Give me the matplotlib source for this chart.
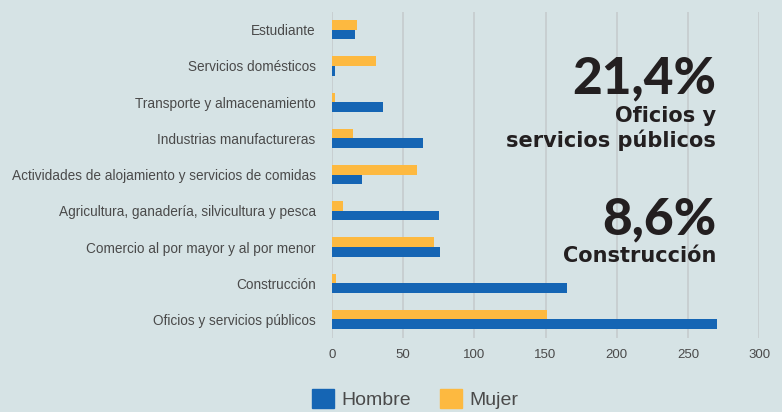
import matplotlib.pyplot as plt
import numpy as np
from matplotlib.patches import Patch

# categories from top to bottom
categories = [
    "Estudiante",
    "Servicios domésticos",
    "Transporte y almacenamiento",
    "Industrias manufactureras",
    "Actividades de alojamiento y servicios de comidas",
    "Agricultura, ganadería, silvicultura y pesca",
    "Comercio al por mayor y al por menor",
    "Construcción",
    "Oficios y servicios públicos",
]
hombre = [16, 2, 36, 64, 21, 75, 76, 165, 270]
mujer = [18, 31, 2, 15, 60, 8, 72, 3, 151]
x_ticks = [0, 50, 100, 150, 200, 250, 300]

bg = "#d6e3e5"
blue = "#1565b4"
orange = "#fdb940"
text_gray = "#4a4a4a"

plt.rcParams["font.family"] = ["Liberation Sans", "DejaVu Sans"]

fig = plt.figure(figsize=(7.82, 4.12), dpi=100, facecolor=bg)
ax = fig.add_axes([331.7 / 782, 1 - 337.6 / 412, (759.3 - 331.7) / 782, 326 / 412])
ax.set_facecolor(bg)

y = np.arange(len(categories))
h = 0.265
ax.barh(y - h / 2, mujer, height=h, color=orange, zorder=3)
ax.barh(y + h / 2, hombre, height=h, color=blue, zorder=3)

ax.set_ylim(len(categories) - 0.5, -0.5)
ax.set_xlim(0, 300)
ax.set_yticks(y)
ax.set_yticklabels(categories, fontsize=9.8, color=text_gray)
ax.set_xticks(x_ticks)
ax.set_xticklabels([str(t) for t in x_ticks], fontsize=9.5, color=text_gray)
ax.tick_params(axis="y", length=0, pad=11.5)
ax.tick_params(axis="x", length=0, pad=8)
ax.grid(axis="x", color="#c6cccd", linewidth=1.2, zorder=0)
for s in ax.spines.values():
    s.set_visible(False)

# highlight texts
dark = "#231f20"
big_font = ["Lato", "DejaVu Sans"]
small_font = ["DejaVu Sans"]
xr = 716 / 782
fig.text(xr, 1 - 93.3 / 412, "21,4%", ha="right", va="baseline", fontsize=37,
         fontweight="black", family=big_font, color=dark)
fig.text(xr, 1 - 121.7 / 412, "Oficios y", ha="right", va="baseline", fontsize=15,
         fontweight="bold", family=small_font, color=dark)
fig.text(xr, 1 - 146.7 / 412, "servicios públicos", ha="right", va="baseline", fontsize=15,
         fontweight="bold", family=small_font, color=dark)
fig.text(xr, 1 - 234 / 412, "8,6%", ha="right", va="baseline", fontsize=37,
         fontweight="black", family=big_font, color=dark)
fig.text(xr, 1 - 261.7 / 412, "Construcción", ha="right", va="baseline", fontsize=15,
         fontweight="bold", family=small_font, color=dark)

handles = [Patch(color=blue, label="Hombre"), Patch(color=orange, label="Mujer")]
leg = fig.legend(handles=handles, loc="center", bbox_to_anchor=(0.531, 0.032), ncol=2,
                 frameon=False, fontsize=14, handlelength=1.1, handleheight=1.1,
                 handletextpad=0.4, columnspacing=1.5)
for t in leg.get_texts():
    t.set_color(text_gray)

fig.savefig("out.png", dpi=100, facecolor=bg)
